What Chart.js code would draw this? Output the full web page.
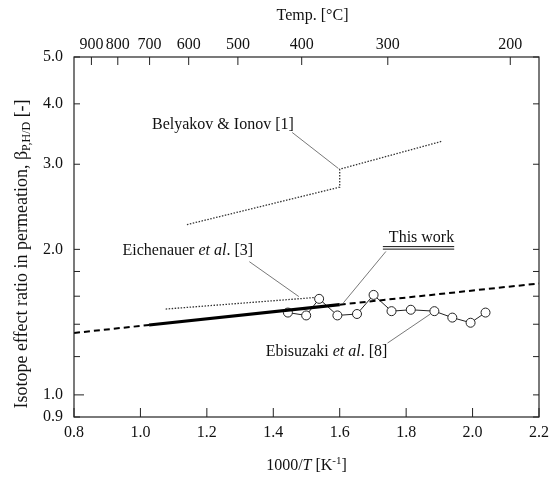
<!DOCTYPE html>
<html>
<head>
<meta charset="utf-8">
<script src="https://cdn.jsdelivr.net/npm/chart.js@4"></script>
<style>
  body { margin: 0; background: #fff; }
  canvas { display: block; }
</style>
</head>
<body>
<canvas id="betaChart" width="555" height="481"></canvas>
<script>
// axis ticks
const xTicks = [0.8, 1.0, 1.2, 1.4, 1.6, 1.8, 2.0, 2.2];
const yTicks = [0.9, 1.0, 1.2, 1.4, 1.6, 1.8, 2.0, 3.0, 4.0, 5.0];
const yLabelled = [0.9, 1.0, 2.0, 3.0, 4.0, 5.0];
const tempTicks = [900, 800, 700, 600, 500, 400, 300, 200];

// This work (solid) and its extrapolation (dashed)
const thisWorkX = [1.026, 1.60];
const thisWorkY = [1.395, 1.537];
const extrapLowX = [0.8, 1.026];
const extrapLowY = [1.343, 1.395];
const extrapHighX = [1.60, 2.2];
const extrapHighY = [1.537, 1.70];

// Belyakov & Ionov [1]
const belyakovX = [1.14, 1.60, 1.60, 1.91];
const belyakovY = [2.25, 2.69, 2.93, 3.35];

// Eichenauer et al. [3]
const eichenauerX = [1.076, 1.525];
const eichenauerY = [1.505, 1.59];

// Ebisuzaki et al. [8]
const ebisuzakiX = [1.444, 1.499, 1.538, 1.593, 1.652, 1.702, 1.756, 1.814, 1.885, 1.939, 1.994, 2.039];
const ebisuzakiY = [1.48, 1.46, 1.58, 1.46, 1.47, 1.61, 1.49, 1.50, 1.49, 1.445, 1.41, 1.48];

// labels and leader lines, in data units
const annotations = [
    { runs: [{ t: 'Belyakov & Ionov [1]' }], x: 1.035, y: 3.62, lead: [[1.457, 3.49], [1.596, 2.94]] },
    { runs: [{ t: 'Eichenauer ' }, { t: 'et al', i: true }, { t: '. [3]' }], x: 0.946, y: 1.985, lead: [[1.328, 1.886], [1.477, 1.597]] },
    { runs: [{ t: 'This work' }], x: 1.748, y: 2.11, lead: [[1.739, 1.98], [1.611, 1.55]], underline: true },
    { runs: [{ t: 'Ebisuzaki ' }, { t: 'et al', i: true }, { t: '. [8]' }], x: 1.377, y: 1.227, lead: [[1.744, 1.28], [1.873, 1.47]] }
];

const pts = (xs, ys) => xs.map((x, i) => ({ x: x, y: ys[i] }));
const FONT = 'Liberation Serif';

Chart.defaults.font.family = FONT;
Chart.defaults.font.size = 16;
Chart.defaults.color = '#111';

function drawRuns(ctx, runs, x, y, size) {
    let cx = x;
    runs.forEach(r => {
        ctx.font = (r.i ? 'italic ' : '') + size + 'px "' + FONT + '"';
        ctx.fillText(r.t, cx, y);
        cx += ctx.measureText(r.t).width;
    });
    return cx - x;
}

const framePlugin = {
    id: 'frame',
    afterDatasetsDraw(chart) {
        const ctx = chart.ctx;
        const { left, right, top, bottom } = chart.chartArea;
        const { x, xTop, y } = chart.scales;
        ctx.save();

        // leader lines and labels
        ctx.strokeStyle = '#555';
        ctx.lineWidth = 0.8;
        ctx.fillStyle = '#111';
        ctx.textBaseline = 'middle';
        ctx.textAlign = 'left';
        annotations.forEach(a => {
            ctx.beginPath();
            ctx.moveTo(x.getPixelForValue(a.lead[0][0]), y.getPixelForValue(a.lead[0][1]));
            ctx.lineTo(x.getPixelForValue(a.lead[1][0]), y.getPixelForValue(a.lead[1][1]));
            ctx.stroke();
            const tx = x.getPixelForValue(a.x);
            const ty = y.getPixelForValue(a.y);
            const w = drawRuns(ctx, a.runs, tx, ty, 16);
            if (a.underline) {
                ctx.save();
                ctx.strokeStyle = '#111';
                ctx.lineWidth = 1;
                [8.5, 11].forEach(d => {
                    ctx.beginPath();
                    ctx.moveTo(tx - 6, ty + d);
                    ctx.lineTo(tx + w, ty + d);
                    ctx.stroke();
                });
                ctx.restore();
            }
        });

        // frame
        ctx.strokeStyle = '#222';
        ctx.lineWidth = 1.2;
        ctx.strokeRect(left, top, right - left, bottom - top);

        // inward tick marks
        ctx.lineWidth = 1;
        x.ticks.forEach(t => {
            const px = x.getPixelForValue(t.value);
            ctx.beginPath(); ctx.moveTo(px, bottom); ctx.lineTo(px, bottom - 9); ctx.stroke();
        });
        ctx.font = '16px "' + FONT + '"';
        ctx.textAlign = 'center';
        xTop.ticks.forEach((t, i) => {
            const px = xTop.getPixelForValue(t.value);
            ctx.beginPath(); ctx.moveTo(px, top); ctx.lineTo(px, top + 8); ctx.stroke();
            ctx.fillText(String(tempTicks[i]), px, top - 12);
        });
        y.ticks.forEach(t => {
            const py = y.getPixelForValue(t.value);
            const len = t.value === 1.0 ? 10 : 6;
            ctx.beginPath(); ctx.moveTo(left, py); ctx.lineTo(left + len, py); ctx.stroke();
            ctx.beginPath(); ctx.moveTo(right, py); ctx.lineTo(right - 6, py); ctx.stroke();
        });

        // axis titles
        ctx.fillStyle = '#111';
        ctx.textBaseline = 'middle';
        ctx.textAlign = 'center';
        ctx.font = '16px "' + FONT + '"';
        ctx.fillText('Temp. [\u00B0C]', (left + right) / 2 + 6, 16);

        // bottom title: 1000/T [K^-1]
        const xRuns = [{ t: '1000/' }, { t: 'T', i: true }, { t: ' [K' }, { t: '-1', sup: true }, { t: ']' }];
        const measure = r => {
            ctx.font = (r.i ? 'italic ' : '') + (r.sup ? 11 : 16) + 'px "' + FONT + '"';
            return ctx.measureText(r.t).width;
        };
        let total = xRuns.reduce((s, r) => s + measure(r), 0);
        let cx = (left + right) / 2 - total / 2;
        ctx.textAlign = 'left';
        xRuns.forEach(r => {
            const w = measure(r);
            ctx.fillText(r.t, cx, r.sup ? 461 : 466);
            cx += w;
        });

        // left title, rotated, with subscript
        ctx.save();
        ctx.translate(22, (top + bottom) / 2 + 17);
        ctx.rotate(-Math.PI / 2);
        const yRuns = [
            { t: 'Isotope effect ratio in permeation, \u03B2', s: 18, dy: 0 },
            { t: 'P,H/D', s: 12, dy: 5 },
            { t: ' [-]', s: 18, dy: 0 }
        ];
        const yW = yRuns.reduce((s, r) => { ctx.font = r.s + 'px "' + FONT + '"'; return s + ctx.measureText(r.t).width; }, 0);
        let ry = -yW / 2;
        yRuns.forEach(r => {
            ctx.font = r.s + 'px "' + FONT + '"';
            ctx.fillText(r.t, ry, r.dy);
            ry += ctx.measureText(r.t).width;
        });
        ctx.restore();

        ctx.restore();
    }
};

const lineStyle = { showLine: true, pointRadius: 0, borderColor: '#000', fill: false, tension: 0 };

new Chart(document.getElementById('betaChart'), {
    type: 'scatter',
    data: {
        datasets: [
            { ...lineStyle, label: 'extrap low', data: pts(extrapLowX, extrapLowY), borderWidth: 2, borderDash: [6, 4] },
            { ...lineStyle, label: 'extrap high', data: pts(extrapHighX, extrapHighY), borderWidth: 2, borderDash: [6, 4] },
            { ...lineStyle, label: 'Belyakov & Ionov [1]', data: pts(belyakovX, belyakovY), borderWidth: 1.3, borderColor: '#333', borderDash: [1.5, 1.5] },
            { ...lineStyle, label: 'Eichenauer et al. [3]', data: pts(eichenauerX, eichenauerY), borderWidth: 1.3, borderColor: '#333', borderDash: [1.5, 1.5] },
            { ...lineStyle, label: 'This work', data: pts(thisWorkX, thisWorkY), borderWidth: 3.2 },
            {
                label: 'Ebisuzaki et al. [8]', data: pts(ebisuzakiX, ebisuzakiY), showLine: true,
                borderColor: '#222', borderWidth: 1, pointRadius: 4.5, pointBorderWidth: 1,
                pointBackgroundColor: '#fff', pointBorderColor: '#222', tension: 0
            }
        ]
    },
    options: {
        responsive: false,
        animation: false,
        layout: { padding: 0 },
        plugins: { legend: { display: false }, tooltip: { enabled: false } },
        scales: {
            x: {
                type: 'linear', position: 'bottom', min: 0.8, max: 2.2,
                afterBuildTicks: s => { s.ticks = xTicks.map(v => ({ value: v })); },
                afterFit: s => { s.height = 64; },
                grid: { display: false, drawTicks: false },
                border: { display: false },
                ticks: { padding: 6, autoSkip: false, maxRotation: 0, callback: v => v.toFixed(1) }
            },
            xTop: {
                type: 'linear', position: 'top', min: 0.8, max: 2.2,
                afterBuildTicks: s => { s.ticks = tempTicks.map(t => ({ value: 1000 / (t + 273.15) })); },
                afterFit: s => { s.height = 57; },
                grid: { display: false, drawTicks: false },
                border: { display: false },
                ticks: { display: false, autoSkip: false }
            },
            y: {
                type: 'logarithmic', position: 'left', min: 0.9, max: 5.0,
                afterBuildTicks: s => { s.ticks = yTicks.map(v => ({ value: v })); },
                afterFit: s => { s.width = 74; },
                grid: { display: false, drawTicks: false },
                border: { display: false },
                ticks: {
                    padding: 11, autoSkip: false,
                    callback: v => yLabelled.some(l => Math.abs(l - v) < 1e-9) ? v.toFixed(1) : ''
                }
            },
            yRight: {
                type: 'logarithmic', position: 'right', min: 0.9, max: 5.0,
                afterFit: s => { s.width = 10; },
                grid: { display: false, drawTicks: false },
                border: { display: false },
                ticks: { display: false }
            }
        }
    },
    plugins: [framePlugin]
});
</script>
</body>
</html>
